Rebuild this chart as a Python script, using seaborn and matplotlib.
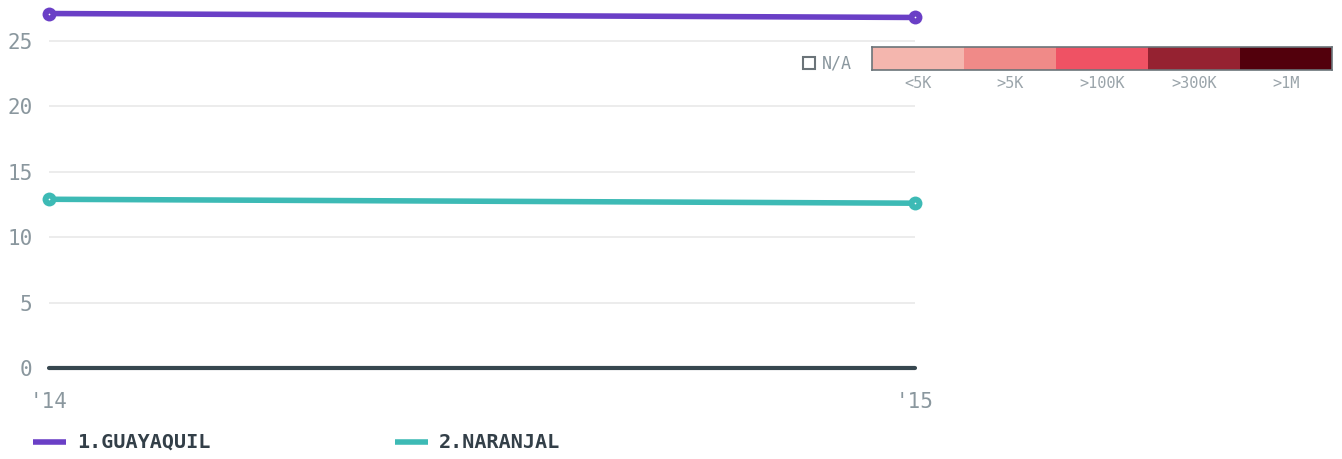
import numpy as np
import pandas as pd
import matplotlib
matplotlib.use("Agg")
import matplotlib.pyplot as plt
import seaborn as sns
from matplotlib.lines import Line2D
from matplotlib.patches import Rectangle

# data
years = ["'14", "'15"]
guayaquil = [27.1, 26.8]
naranjal = [12.9, 12.6]
series_names = ["1.GUAYAQUIL", "2.NARANJAL"]
series_colors = ["#6a3fc6", "#3dbab5"]

scale_labels = ["<5K", ">5K", ">100K", ">300K", ">1M"]
scale_colors = ["#f4b6ae", "#f08a88", "#ef5264", "#952231", "#52000c"]

df = pd.DataFrame({
    "x": list(range(len(years))) * 2,
    "value": guayaquil + naranjal,
    "name": [series_names[0]] * 2 + [series_names[1]] * 2,
})

sns.set_style("white")
plt.rcParams["font.family"] = ["DejaVu Sans Mono", "DejaVu Sans"]

W, H = 1342, 459
fig = plt.figure(figsize=(W / 100, H / 100), dpi=100)
ax = fig.add_axes([49 / W, (H - 368) / H, (915 - 49) / W, 363 / H])

sns.lineplot(data=df, x="x", y="value", hue="name", palette=series_colors,
             linewidth=4, marker="o", markersize=10,
             legend=False, ax=ax, zorder=3)
for l, c in zip(ax.lines, series_colors):
    l.set_clip_on(False)
    l.set_markeredgecolor(c)
    l.set_markerfacecolor(c)
    l.set_markeredgewidth(0)
# little white dot at centre of markers
for vals in [guayaquil, naranjal]:
    ax.scatter(range(len(years)), vals, s=1.5, color="white", zorder=5,
               clip_on=False, linewidth=0)

ax.set_xlim(0, 1)
ax.set_ylim(0, (368 - 5) / 13.08)
ax.set_yticks([0, 5, 10, 15, 20, 25])
ax.set_xticks(range(len(years)))
ax.set_xticklabels(years)
for s in ax.spines.values():
    s.set_visible(False)
ax.grid(axis="y", color="#e9e9e9", linewidth=1.2)
ax.axhline(0, color="#37474f", linewidth=3, zorder=4, clip_on=False)
ax.tick_params(axis="both", length=0, labelsize=15, labelcolor="#8a979e")
ax.tick_params(axis="y", pad=12)
ax.tick_params(axis="x", pad=17)
ax.set_xlabel("")
ax.set_ylabel("")

# bottom legend
for i, (name, c) in enumerate(zip(series_names, series_colors)):
    x0 = [33, 395][i]
    fig.add_artist(Line2D([x0 / W, (x0 + 33) / W], [1 - 442 / H] * 2, color=c,
                          linewidth=4, solid_capstyle="butt"))
    fig.text((x0 + 44) / W, 1 - 442 / H, name, fontsize=14.5, fontweight="bold",
             color="#333f48", va="center")

# colour scale legend
cax = fig.add_axes([872 / W, 1 - 70 / H, 460 / W, 23 / H])
for i, c in enumerate(scale_colors):
    cax.add_patch(Rectangle((i, 0), 1, 1, color=c, linewidth=0))
cax.set_xlim(0, len(scale_colors))
cax.set_ylim(0, 1)
cax.set_yticks([])
cax.set_xticks(np.arange(len(scale_labels)) + 0.5)
cax.set_xticklabels(scale_labels, fontsize=11, color="#9aa4aa")
cax.tick_params(axis="x", length=0, pad=4)
for s in cax.spines.values():
    s.set_color("#6b7479")
    s.set_linewidth(1.2)

fig.add_artist(Rectangle((803 / W, 1 - 69 / H), 12 / W, 12 / H, fill=False,
                         edgecolor="#6b7479", linewidth=1.5))
fig.text(822 / W, 1 - 64 / H, "N/A", fontsize=12, color="#8a979e", va="center")

fig.savefig("out.png", dpi=100)
